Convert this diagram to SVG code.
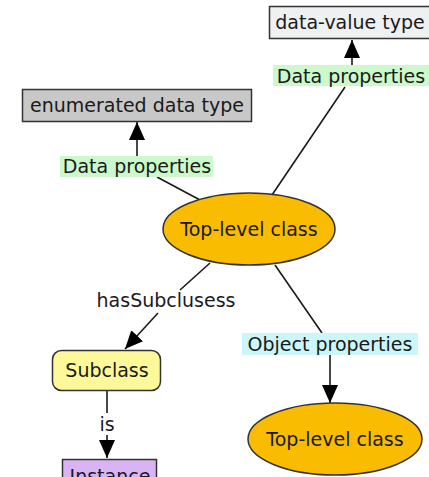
<svg xmlns="http://www.w3.org/2000/svg" width="429" height="477" viewBox="0 0 429 477">
  <defs>
    <marker id="arrow" viewBox="0 0 18 16" refX="18" refY="8" markerWidth="18" markerHeight="16" markerUnits="userSpaceOnUse" orient="auto">
      <path d="M0,0 L18,8 L0,16 Z" fill="#000"/>
    </marker>
    <style>
      text { font-family: "DejaVu Sans", Verdana, sans-serif; font-size: 19px; fill: #1a1a1a; text-anchor: middle; dominant-baseline: central; }
      .edge { stroke: #1a1a1a; stroke-width: 1.6; fill: none; }
      .box { stroke: #333; stroke-width: 1.5; }
      .lbl { stroke: none; }
    </style>
  </defs>

  <!-- connectors -->
  <g id="connectors">
    <line class="edge" x1="352" y1="66" x2="352" y2="40" marker-end="url(#arrow)"/>
    <line class="edge" x1="345" y1="87" x2="272" y2="195"/>
    <line class="edge" x1="137" y1="156" x2="137" y2="122" marker-end="url(#arrow)"/>
    <line class="edge" x1="157" y1="177" x2="200" y2="200"/>
    <line class="edge" x1="210" y1="263" x2="180" y2="290"/>
    <line class="edge" x1="158" y1="313" x2="125" y2="349" marker-end="url(#arrow)"/>
    <line class="edge" x1="107" y1="390" x2="107" y2="413"/>
    <line class="edge" x1="107" y1="435" x2="107" y2="458" marker-end="url(#arrow)"/>
    <line class="edge" x1="275" y1="265" x2="322" y2="333"/>
    <line class="edge" x1="330" y1="355" x2="330" y2="403" marker-end="url(#arrow)"/>
  </g>

  <!-- connector labels -->
  <g id="label-data-properties-1">
    <rect class="lbl" x="273" y="65" width="156" height="21" fill="#ccf9cc"/>
    <text x="351" y="76">Data properties</text>
  </g>
  <g id="label-data-properties-2">
    <rect class="lbl" x="60" y="156" width="153" height="21" fill="#ccf9cc"/>
    <text x="137" y="166">Data properties</text>
  </g>
  <g id="label-has-subclasses">
    <text x="166" y="300">hasSubclusess</text>
  </g>
  <g id="label-is">
    <text x="107" y="424">is</text>
  </g>
  <g id="label-object-properties">
    <rect class="lbl" x="242" y="333" width="176" height="22" fill="#ccf7fa"/>
    <text x="330" y="344">Object properties</text>
  </g>

  <!-- nodes -->
  <g id="node-data-value-type">
    <rect class="box" x="269.5" y="6.5" width="162" height="32" fill="#eef1f1"/>
    <text x="350" y="22">data-value type</text>
  </g>
  <g id="node-enumerated-data-type">
    <rect class="box" x="22.5" y="89.5" width="229" height="32" fill="#c8c8c8"/>
    <text x="137" y="105">enumerated data type</text>
  </g>
  <g id="node-top-level-class">
    <ellipse class="box" cx="249" cy="229" rx="86" ry="36" fill="#f9bc00"/>
    <text x="249" y="229">Top-level class</text>
  </g>
  <g id="node-subclass">
    <rect class="box" x="52.5" y="350.5" width="108" height="40" rx="9" fill="#fdf99a"/>
    <text x="107" y="370">Subclass</text>
  </g>
  <g id="node-instance">
    <rect class="box" x="62.5" y="459.5" width="94" height="30" fill="#d8b4f5"/>
    <text x="110" y="476">Instance</text>
  </g>
  <g id="node-top-level-class-2">
    <ellipse class="box" cx="335" cy="439" rx="87" ry="36" fill="#f9bc00"/>
    <text x="335" y="439">Top-level class</text>
  </g>
</svg>
